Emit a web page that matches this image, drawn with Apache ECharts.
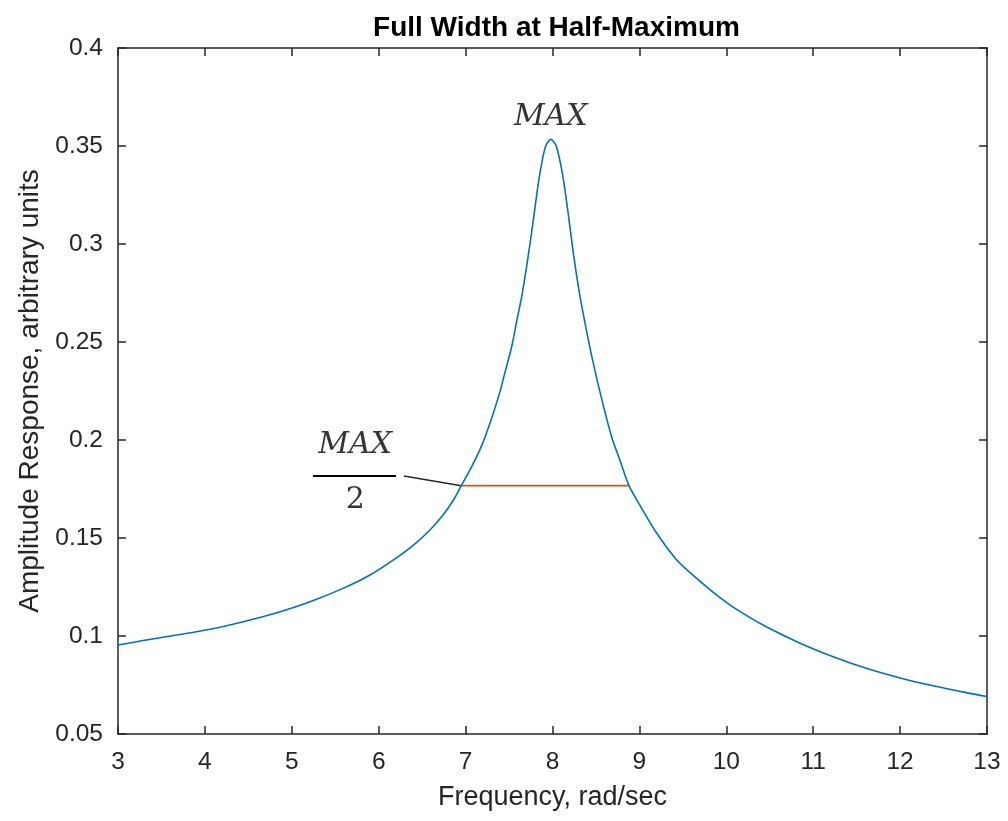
<!DOCTYPE html>
<html>
<head>
<meta charset="utf-8">
<script src="https://cdn.jsdelivr.net/npm/echarts@6/dist/echarts.min.js"></script>
<style>
html,body{margin:0;padding:0;background:#fff;}
#chart{width:1008px;height:821px;}
</style>
</head>
<body>
<div id="chart"></div>
<script>
// ---- data ----
const freq = [3, 3.29, 3.675, 4.06, 4.44, 4.83, 5.21, 5.59, 5.90, 6.17, 6.40, 6.59, 6.74, 6.86, 6.95,
  7.07, 7.18, 7.28, 7.39, 7.45, 7.53, 7.59, 7.645, 7.70, 7.76, 7.815, 7.855, 7.92, 7.98, 8.045,
  8.12, 8.18, 8.24, 8.31, 8.39, 8.47, 8.56, 8.68, 8.775, 8.88, 9.005, 9.20, 9.43, 9.66, 9.89,
  10.16, 10.46, 10.85, 11.23, 11.61, 12.0, 12.38, 12.76, 13];
const amplitude = [0.0954, 0.0977, 0.1005, 0.1034, 0.1073, 0.1119, 0.1175, 0.1243, 0.1311, 0.1388, 0.1464, 0.1541, 0.1617, 0.1694, 0.1767,
  0.1864, 0.1966, 0.2085, 0.2238, 0.2340, 0.2476, 0.2610, 0.2730, 0.2880, 0.3060, 0.3240, 0.3360, 0.3497, 0.3534, 0.3497,
  0.3343, 0.3157, 0.2953, 0.2748, 0.2561, 0.2391, 0.2220, 0.2017, 0.1898, 0.1767, 0.1668, 0.1524, 0.1388, 0.1294, 0.1209,
  0.1124, 0.1047, 0.0963, 0.0894, 0.0835, 0.0786, 0.0746, 0.0711, 0.0691];

const halfMaxX = [6.95, 8.88];
const halfMaxY = [0.1767, 0.1767];

const leaderX = [6.29, 6.95];
const leaderY = [0.1816, 0.1767];

const fracBarX = [5.243, 6.198];
const fracBarY = [0.1816, 0.1816];

const textLabels = ['MAX', 'MAX', '2'];
const textItalic = [true, true, false];
const textX = [7.98, 5.73, 5.73];
const textY = [0.3648, 0.1975, 0.1694];

const xTicks = [3, 4, 5, 6, 7, 8, 9, 10, 11, 12, 13];
const yTicks = [0.05, 0.1, 0.15, 0.2, 0.25, 0.3, 0.35, 0.4];

const titleText = 'Full Width at Half-Maximum';
const xName = 'Frequency, rad/sec';
const yName = 'Amplitude Response, arbitrary units';

// ---- chart ----
const axisColor = '#262626';
const chart = echarts.init(document.getElementById('chart'), null, {renderer: 'canvas'});

const pair = (xs, ys) => xs.map((x, i) => [x, ys[i]]);

const axisCommon = {
  axisLine: {show: true, lineStyle: {color: axisColor, width: 1.5}},
  axisTick: {show: true, inside: true, length: 8, lineStyle: {color: axisColor, width: 1.5}},
  splitLine: {show: false}
};

const option = {
  animation: false,
  backgroundColor: '#ffffff',
  title: {
    text: titleText,
    left: 551.5, top: 9, textAlign: 'center',
    textStyle: {fontFamily: 'Liberation Sans, Arial, sans-serif', fontWeight: 'bold', fontSize: 28, color: '#000'}
  },
  grid: {left: 118, right: 21, top: 48, bottom: 87, containLabel: false},
  xAxis: [
    Object.assign({
      type: 'value', min: xTicks[0], max: xTicks[xTicks.length - 1], interval: 1, position: 'bottom',
      name: xName, nameLocation: 'middle', nameGap: 50,
      nameTextStyle: {fontFamily: 'Liberation Sans, Arial, sans-serif', fontSize: 27, color: axisColor},
      axisLabel: {show: true, margin: 16, color: axisColor, fontSize: 24.5, fontFamily: 'Liberation Sans, Arial, sans-serif'}
    }, axisCommon),
    Object.assign({
      type: 'value', min: xTicks[0], max: xTicks[xTicks.length - 1], interval: 1, position: 'top',
      axisLabel: {show: false}
    }, axisCommon)
  ],
  yAxis: [
    Object.assign({
      type: 'value', min: yTicks[0], max: yTicks[yTicks.length - 1], interval: 0.05, position: 'left',
      name: yName, nameLocation: 'middle', nameGap: 70,
      nameTextStyle: {fontFamily: 'Liberation Sans, Arial, sans-serif', fontSize: 28, color: axisColor},
      axisLabel: {show: true, margin: 15, color: axisColor, fontSize: 24.5, fontFamily: 'Liberation Sans, Arial, sans-serif',
        formatter: v => String(+v.toFixed(2))}
    }, axisCommon),
    Object.assign({
      type: 'value', min: yTicks[0], max: yTicks[yTicks.length - 1], interval: 0.05, position: 'right',
      axisLabel: {show: false}
    }, axisCommon)
  ],
  series: [
    {
      type: 'line', xAxisIndex: 0, yAxisIndex: 0, data: pair(freq, amplitude),
      showSymbol: false, smooth: 0.3, lineStyle: {color: '#0072BD', width: 1.6}, z: 3
    },
    {
      type: 'line', data: pair(halfMaxX, halfMaxY), showSymbol: false,
      lineStyle: {color: '#D95319', width: 1.6}, z: 2
    },
    {
      type: 'line', data: pair(leaderX, leaderY), showSymbol: false,
      lineStyle: {color: '#262626', width: 1.5}, z: 2
    },
    {
      type: 'line', data: pair(fracBarX, fracBarY), showSymbol: false, clip: false,
      lineStyle: {color: '#000000', width: 2}, z: 2
    },
    {
      type: 'scatter', symbolSize: 0, clip: false,
      data: textLabels.map((t, i) => ({
        name: t, value: [textX[i], textY[i]],
        label: {fontStyle: textItalic[i] ? 'italic' : 'normal'}
      })),
      label: {
        show: true, position: 'inside', formatter: '{b}',
        fontFamily: 'DejaVu Serif, serif', fontSize: 30, color: '#000000', textBorderWidth: 0
      },
      z: 5
    }
  ]
};
chart.setOption(option);
</script>
</body>
</html>
